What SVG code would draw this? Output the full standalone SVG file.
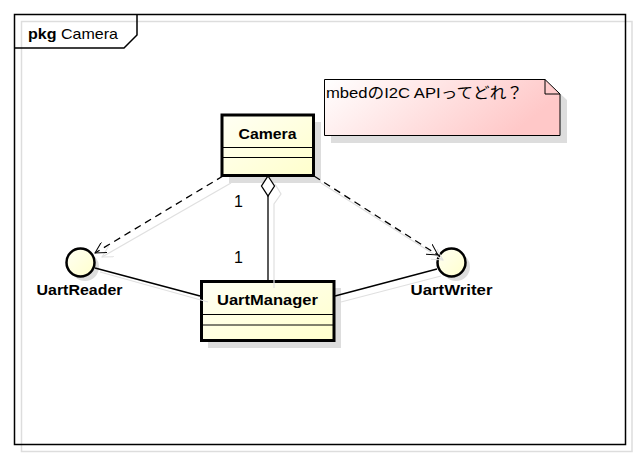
<svg xmlns="http://www.w3.org/2000/svg" width="639" height="459" viewBox="0 0 639 459">
<defs>
<linearGradient id="cls" x1="0" y1="0" x2="1" y2="1">
<stop offset="0" stop-color="#fffff4"/>
<stop offset="1" stop-color="#ffffcc"/>
</linearGradient>
<linearGradient id="note" x1="0" y1="0" x2="1" y2="0.3">
<stop offset="0" stop-color="#ffffff"/>
<stop offset="1" stop-color="#ffc8c8"/>
</linearGradient>
<marker id="open" viewBox="0 0 12 12" refX="11" refY="6" markerWidth="12" markerHeight="12" markerUnits="userSpaceOnUse" orient="auto">
<path d="M0,0 L11,6 L0,12" fill="none" stroke="#000" stroke-width="1"/>
</marker>
<marker id="openg" viewBox="0 0 12 12" refX="11" refY="6" markerWidth="12" markerHeight="12" markerUnits="userSpaceOnUse" orient="auto">
<path d="M0,0 L11,6 L0,12" fill="none" stroke="#e0e0e0" stroke-width="1"/>
</marker>
</defs>
<style>
text{font-family:"Liberation Sans",Arial,"Noto Sans CJK JP",sans-serif;fill:#000}
.b{font-weight:bold;font-size:15px}
.r{font-size:16px}
.box{fill:url(#cls);stroke:#000;stroke-width:3}
.sh{fill:#dddddd;stroke:none}
.div{stroke:#000;stroke-width:1}
.gl{stroke:#e0e0e0;stroke-width:1.2;fill:none}
.ln{stroke:#000;stroke-width:1.3;fill:none}
.dash{stroke:#000;stroke-width:1.3;fill:none;stroke-dasharray:7,5}
</style>
<rect width="639" height="459" fill="#fff"/>

<g id="frame">
<rect x="21.5" y="21.5" width="610.5" height="430" fill="none" stroke="#dddddd" stroke-width="1.5"/>
<rect x="14.5" y="14.5" width="611" height="430" fill="none" stroke="#000" stroke-width="1.5"/>
<path d="M14.5,48 L124,48 L137,35 L137,14.5" fill="none" stroke="#000" stroke-width="1.5"/>
<text x="28" y="38.5" style="font-size:15px" textLength="90" lengthAdjust="spacingAndGlyphs"><tspan font-weight="bold">pkg</tspan> Camera</text>
</g>

<g id="note">
<path class="sh" d="M331,86 L552,86 L567,100 L567,143 L331,143 Z"/>
<path d="M324.5,79.5 L545,79.5 L560,94 L560,135.5 L324.5,135.5 Z" fill="url(#note)" stroke="#000" stroke-width="1"/>
<path d="M545,79.5 L545,94 L560,94" fill="none" stroke="#000" stroke-width="1"/>
<text x="326" y="98" style="font-size:15px" textLength="197" lengthAdjust="spacingAndGlyphs">mbedのI2C APIってどれ？</text>
</g>

<g id="Camera">
<rect class="sh" x="229" y="122" width="92" height="61"/>
<rect class="box" x="222" y="115" width="91.5" height="60.5"/>
<line class="div" x1="222" y1="147.5" x2="313.5" y2="147.5"/>
<line class="div" x1="222" y1="157.5" x2="313.5" y2="157.5"/>
<text class="b" x="267.5" y="139" text-anchor="middle" textLength="58" lengthAdjust="spacingAndGlyphs">Camera</text>
</g>

<g id="UartManager">
<rect class="sh" x="208" y="288" width="133" height="60"/>
<rect class="box" x="201.5" y="281.5" width="132.5" height="59"/>
<line class="div" x1="201.5" y1="314.5" x2="334" y2="314.5"/>
<line class="div" x1="201.5" y1="325" x2="334" y2="325"/>
<text class="b" x="267.5" y="305" text-anchor="middle" textLength="101" lengthAdjust="spacingAndGlyphs">UartManager</text>
</g>

<g id="UartReader">
<circle class="sh" cx="85" cy="267" r="14"/>
<circle cx="80.5" cy="262.5" r="14" fill="url(#cls)" stroke="#000" stroke-width="2.5"/>
<text class="b" x="79.5" y="295" text-anchor="middle" textLength="86" lengthAdjust="spacingAndGlyphs">UartReader</text>
</g>

<g id="UartWriter">
<circle class="sh" cx="456" cy="267" r="14"/>
<circle cx="451.5" cy="262.5" r="14" fill="url(#cls)" stroke="#000" stroke-width="2.5"/>
<text class="b" x="451.5" y="295" text-anchor="middle" textLength="82" lengthAdjust="spacingAndGlyphs">UartWriter</text>
</g>

<g id="connectors">
<line class="gl" x1="231" y1="183" x2="102" y2="257" marker-end="url(#openg)"/>
<line class="gl" x1="321" y1="183" x2="443" y2="260" marker-end="url(#openg)"/>
<path class="gl" d="M275,184 L281,194 L274,204 L274,288"/>
<line class="gl" x1="100" y1="272" x2="208" y2="302"/>
<line class="gl" x1="341" y1="302" x2="441" y2="276"/>
<line class="dash" x1="223" y1="176" x2="95" y2="253" marker-end="url(#open)"/>
<line class="dash" x1="314" y1="176" x2="438" y2="255" marker-end="url(#open)"/>
<path d="M268,176 L274.5,186 L268,196 L261.5,186 Z" fill="#fff" stroke="#000" stroke-width="1.3"/>
<line class="ln" x1="268" y1="196" x2="268" y2="280"/>
<line class="ln" x1="95" y1="268" x2="200" y2="296"/>
<line class="ln" x1="335" y1="296" x2="437" y2="269"/>
<text class="r" x="234" y="207">1</text>
<text class="r" x="234" y="263">1</text>
</g>
</svg>
